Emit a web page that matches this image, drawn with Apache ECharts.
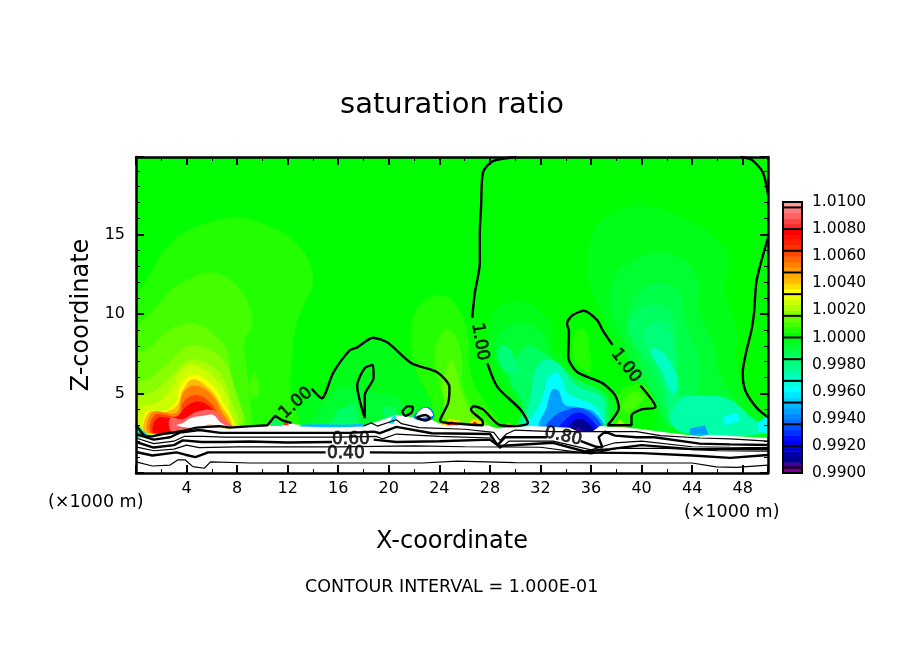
<!DOCTYPE html>
<html>
<head>
<meta charset="utf-8">
<title>saturation ratio</title>
<style>
  html, body { margin: 0; padding: 0; background: #fff; }
  #chart { width: 904px; height: 654px; }
</style>
<script src="https://cdn.jsdelivr.net/npm/echarts@6/dist/echarts.min.js"></script>
</head>
<body>
<div id="chart"></div>
<script>
// colour key, lowest band first, each band is 0.0004 wide
const levelStart = 0.99;
const levelStep = 0.0004;
const levelColors = [
  '#7a0090',
  '#46009a', '#000090', '#0000a8', '#0000d0',
  '#0000f0', '#0010ff', '#0030ff', '#0050ff',
  '#0070ff', '#0088ff', '#00a0ff', '#00b8ff',
  '#00d0ff', '#00e8ff', '#00ffff', '#00ffe0',
  '#00ffc0', '#00ffa8', '#00ff90', '#00ff78',
  '#00ff60', '#00ff48', '#00ff30', '#00ff18',
  '#00ff00', '#22ff00', '#44ff00', '#66ff00',
  '#88ff00', '#aaff00', '#ccff00', '#eeff00',
  '#ffff00', '#ffdd00', '#ffbb00', '#ffaa00',
  '#ff9900', '#ff8000', '#ff6600', '#ff4400',
  '#ff3000', '#ff2000', '#ff1000', '#ff0000',
  '#ff2a2a', '#ff4444', '#ff6060', '#ff7a7a',
  '#ff9999',
];

// filled regions: [km, km height]
const coolEast1 = [[35.7,12.6],[36.15,15.1],[37.7,16.35],[40.4,16.8],[43.3,16],[45.6,15],[46.8,13.6],[46.6,11.3],[47.5,9.2],[47.5,7.1],[47.9,5.5],[49,4],[50,3],[50,2],[41,2],[41.2,4.1],[39.9,5.5],[38.9,7],[37.7,8.5],[36.7,10.25],[35.9,11.8]];
const coolEast2 = [[37.5,10.45],[37.7,12.1],[39.3,13.4],[41.5,13.8],[43.3,13.4],[44.5,12.1],[44.5,10.25],[45.6,8.4],[46.2,6.2],[47.4,4.6],[48.2,3],[42.1,3],[41.2,4.2],[39.9,5.5],[38.7,8.05]];
const coolEast3 = [[38.9,9.6],[39.7,11.3],[41.2,11.95],[42.8,11.5],[43.3,10.25],[43.6,9.2],[44.6,7.1],[44.6,4.6],[46.2,3],[42.5,3],[41.5,4.2],[40.5,5.7],[39.7,7.4]];
const coolEast4 = [[38.9,9],[39.7,10.25],[41.5,10.55],[42.5,9.8],[42.8,7.7],[43,5.5],[43.8,4],[44.6,3],[42.5,3],[42,4],[41.4,5.7],[40.3,7.2]];
const coolEast5 = [[40.2,8.5],[40.6,9.3],[41.6,9.5],[42.3,8.8],[42.7,6.5],[42.8,5],[43.3,3.5],[42.3,3],[42,4.2],[41.6,6],[40.8,7.4]];
const coolEast6 = [[40.7,7.7],[41.5,7.7],[42.5,6.65],[42.9,5.65],[42.5,5],[41.5,6.5]];
const coolEast7 = [[42.4,3],[43,4.6],[44.6,4.9],[47,4.6],[49,3.3],[49.8,3],[50,2.5],[44.6,2.4]];
const coolEast8 = [[46.4,3.5],[47.5,3.8],[47.8,3.3],[46.6,3]];
const coolEast9 = [[43.8,2.8],[45,3],[45.3,2.4],[43.8,2.4]];
const coolEdge = [[49.2,3.2],[50,3.6],[50,2.5],[49.2,2.6]];

const plume35a = [[27.8,9],[28.4,10.25],[30.5,10.8],[32.6,9.6],[33.1,7.7],[33.7,7.3],[34.5,6.6],[36.8,5.5],[37.9,4.6],[38,3.8],[37.3,3],[31,3],[30.4,4],[29.1,5.5],[28.3,6.5]];
const plume35b = [[28.4,8],[29.6,9.3],[31.2,9.3],[32.4,8.4],[32.9,6.8],[33.9,6.2],[36.7,5.2],[37.7,4.3],[37.1,3],[31,3],[30.6,4],[29.6,5.5]];
const plume35c = [[29.6,6],[30.8,8],[32,7.7],[33.2,7],[34.9,5.9],[37,5],[37.4,4],[37,2.9],[30.4,2.9],[30.6,4.3]];
const ridge30 = [[28.6,7.7],[29.3,8.05],[29.9,7.3],[30.2,6.3],[29.4,6.3],[28.7,7]];
const plume35d = [[31.6,6.5],[32.4,7.1],[33.4,6.9],[34.7,5.6],[36.8,4.8],[37.1,3.9],[36.8,2.9],[30.6,2.9],[31,4],[31.3,5.2]];
const plume35e = [[32.6,6],[33.4,6.3],[34.2,5],[35.9,4.4],[36.7,3.8],[36.9,2.9],[31.2,2.9],[32,4.4],[32.4,5.4]];
const plume35f = [[32.9,5.2],[33.4,5.2],[33.9,4.3],[34.9,4.15],[36.2,3.85],[36.9,2.9],[32,2.9],[32.5,4.15]];
const plume35g = [[33.7,3.85],[35,4.1],[36.2,3.65],[36.7,2.9],[32.5,2.9],[33,3.5]];
const plume35h = [[33.9,3.3],[35,3.8],[36.1,3.3],[36.5,2.6],[33.4,2.6]];
const plume35i = [[34.3,3],[35,3.4],[35.8,3.15],[36.2,2.6],[34.2,2.6]];
const plume35j = [[34.7,2.6],[35,2.9],[35.4,2.6]];

const midCool1 = [[12.6,3.15],[13.9,5.1],[14.7,4.6],[15.6,6.2],[16.9,7.6],[18.75,8.4],[19.9,8.15],[21.8,6.8],[23.8,6.2],[24.6,5.3],[24.3,4.2],[23.8,3]];
const midCool2 = [[14,3],[15,4.4],[16.2,5.4],[17.5,5.2],[19.2,5],[20.4,4.9],[21.2,4.2],[21,3.5],[20,3.2],[17,3]];
const midCool3 = [[15.2,3],[16,4],[17.4,4.5],[17.6,3]];
const midCool4 = [[19.6,4.2],[20.5,4.1],[20.7,3.6],[19.6,3.1]];

const warmWest1 = [[0,10.8],[1.1,12.5],[2.7,14.45],[4.8,15.5],[7.7,16.05],[10,15.7],[12.7,14.45],[14,12.3],[13.2,10.4],[12.7,9.4],[12.4,7.7],[12.2,5.3],[12.5,2.8],[0,2]];
const warmWest2 = [[0,8.9],[1.35,10.2],[2.9,11.6],[4,12.1],[6.1,12.6],[8.2,11.6],[9.2,9.6],[8.55,8.2],[8.8,6.4],[9,4.6],[8.8,2.9],[0,2]];
const warmWest3 = [[0,7.3],[1.1,7.9],[2.7,9],[4.7,9.4],[6.6,8.4],[7.2,7.7],[7.6,6],[8.2,4.5],[8.4,2.9],[0,2]];
const warmWest4 = [[0,5.5],[1.2,6],[2.8,7.1],[4.2,8],[5.4,7.9],[7,7],[7.8,5.2],[8.2,3],[0,2]];
const warmWest5 = [[0,4.6],[1.4,5.1],[2.9,6.2],[4.2,7.1],[5.3,7],[6.7,6.2],[7.5,4.6],[7.9,3],[0,2]];
const warmWest6 = [[0.4,4.1],[1.6,4.4],[2.9,5.4],[3.4,6.3],[4.3,6.8],[5.2,6.6],[6.4,5.85],[7.2,4.8],[7.6,3.5],[7.9,2.9],[0.3,2]];
const warmWest7 = [[0.85,3.85],[2.2,3.9],[3.1,4.4],[3.5,5.5],[4.5,6.2],[6.1,5.5],[6.9,4.4],[7.6,3],[0.7,2.5]];
const warmWest8 = [[1,3.8],[2.4,3.85],[3.3,4.3],[3.7,5.2],[4.5,5.9],[5.8,5.3],[6.7,4.3],[7.4,3],[0.8,2.5]];
const warmWest9 = [[1.3,3.8],[3.2,3.8],[3.7,5],[4.6,5.5],[5.9,5],[6.7,4],[7.2,3],[1.1,2.5]];
const warmWest10 = [[1.5,3.65],[3.3,3.6],[3.8,4.5],[4.7,4.9],[5.8,4.5],[6.6,3.6],[7.1,3],[1.3,2.5]];
const warmWest11 = [[1.65,3.45],[3.1,3.5],[4,4.2],[4.8,4.5],[5.8,4.2],[6.6,3.3],[7,2.9],[1.5,2.5]];
const warmWest12 = [[2.7,3.45],[3.7,3.4],[4.8,3.85],[6.1,3.95],[7,3.35],[7.6,2.9],[4.8,2.8],[2.85,2.6]];
const warmWest13 = [[3.2,3],[3.7,3.15],[4.3,3.45],[5.3,3.6],[6.1,3.65],[6.65,3.2],[7.1,2.9],[4.8,2.8]];
const warmBlob9 = [[9.3,6.3],[9.7,5.7],[9.7,4.9],[9.2,4.7],[9,5.5]];

const warmMid1 = [[21.8,9.2],[22.1,10.2],[23.4,11.1],[24.8,11],[25.8,9.9],[26.3,8.4],[26.4,6.5],[27.2,4.9],[28.6,3.3],[26.4,2.8],[24,2.8],[23.3,4.6],[22.1,6.5],[21.8,7.6]];
const warmMid2 = [[23.65,7.7],[24.4,9],[25.2,8.7],[25.8,7.1],[25.8,5.5],[26.8,4],[28,2.8],[24.8,2.8],[24.4,4.6],[23.8,6.2]];
const warmMid3 = [[24.2,5.5],[25,7.1],[25.8,5],[26.6,3.6],[27.4,2.8],[24.6,2.8],[24.4,4.4]];

const warmLoop1 = [[38.1,4.9],[39.1,5.5],[40.3,5.5],[41,4.3],[39.9,4],[39.1,3.6],[39.2,3],[37.5,3],[38,4.1]];
const warmLoop2 = [[38.6,4.6],[39.4,5.1],[40.2,4.8],[39.6,4.2],[38.8,3.8],[38.4,4.2]];
const warmLoop3 = [[37.7,2.8],[38.3,3.4],[39,2.8]];
const warmInner = [[34.5,7.7],[34.7,8.8],[35.3,9.1],[35.7,8.8],[35.9,7.7],[35.9,6.3],[35.2,6.6],[34.7,6.9]];

const fillLayers = [
  [0.9996, coolEast1], [0.9992, coolEast2], [0.9988, coolEast3], [0.9984, coolEast4],
  [0.998, coolEast5], [0.9968, coolEast6], [0.9972, coolEast7], [0.996, coolEast8],
  [0.9944, coolEast9], [0.996, coolEdge],
  [0.9996, plume35a], [0.9992, plume35b], [0.9984, plume35c], [0.998, ridge30], [0.9972, plume35d],
  [0.996, plume35e], [0.9944, plume35f], [0.9932, plume35g], [0.9924, plume35h],
  [0.9908, plume35i], [0.9904, plume35j],
  [0.9996, midCool1], [0.9992, midCool2], [0.9984, midCool3], [0.9984, midCool4],
  [1.0004, warmWest1], [1.0008, warmWest2], [1.0012, warmWest3], [1.0016, warmWest4],
  [1.002, warmWest5], [1.0024, warmWest6], [1.0032, warmWest7], [1.004, warmWest8],
  [1.0052, warmWest9], [1.006, warmWest10], [1.0076, warmWest11], [1.0088, warmWest12],
  [1.01, warmWest13], [1.0008, warmBlob9],
  [1.0004, warmMid1], [1.0008, warmMid2], [1.0012, warmMid3],
  [1.0004, warmLoop1], [1.0008, warmLoop2], [1.0016, warmLoop3], [1.0004, warmInner],
];

// ground profile, painted white under the upper contours
const terrainTop = [[0,2.7],[1.1,2.3],[2.7,2.5],[4.8,2.9],[7.4,2.8],[10.4,3],[12.2,3.1],[13.2,3],[16.9,2.95],[18.2,3],[20.6,3.65],[23.4,3.35],[24,3.1],[27.8,3],[28.6,2.8],[31.2,2.95],[34.3,2.85],[35,2.6],[36.1,2.6],[36.7,2.95],[39.6,2.8],[41.5,2.6],[44.6,2.3],[45.4,2.4],[50,2.2]];

// small patches right on the ground line
const spotWest = [[5.1,2.85],[5.7,3.05],[6.4,3],[6.5,2.85]];
const spot12a = [[10.6,2.95],[11,3.45],[11.6,3.1],[11.6,2.95]];
const spot12b = [[11.6,3],[11.9,3.3],[12.1,3]];
const strip15 = [[13.2,3.05],[17,3.05],[18,3.1],[18,2.92],[13,2.92]];
const spot20 = [[20,3.1],[20.4,3.7],[20.6,3.5],[20.4,3.1]];
const spot22a = [[22,3.45],[22.4,3.95],[23.1,4.15],[23.6,3.65],[23.2,3.3]];
const spot22b = [[22.4,3.9],[23,4.1],[23.5,3.65],[23,3.5],[22.2,3.5]];
const spot25a = [[24.1,3],[24.8,3.4],[25.6,3.3],[25.9,3]];
const spot25b = [[24.5,3],[25,3.25],[25.5,3]];
const spot25c = [[24.8,3.03],[25.1,3.12],[25.3,3.03]];
const spot27a = [[26.1,3],[26.7,3.45],[27.4,3.2],[27.5,3]];
const spot27b = [[26.5,3],[26.8,3.25],[27.1,3]];
const spot30 = [[29.2,3],[29.5,3.15],[29.8,3]];
const cornerA = [[0,3.2],[0.5,2.7],[1.1,2.3],[0,2.2]];
const cornerB = [[0.2,2.6],[0.7,2.5],[1.1,2.3],[0.3,2.35]];
const groundSpots = [
  [1.0044, spotWest], [0.9984, spot12a], [1.0064, spot12b], [0.9948, strip15], [0.9956, spot20],
  [0.9936, spot22a], [1.01, spot22b], [1.0036, spot25a], [1.0072, spot25b], [1.0088, spot25c],
  [1.0036, spot27a], [1.0072, spot27b], [1.0028, spot30], [0.9972, cornerA], [0.994, cornerB],
];

// contour lines
const contourWest = [[0,3],[0.7,2.3],[1.3,2.3],[2.1,2.45],[3,2.55],[3.7,2.65],[4.8,2.85],[6.6,2.95],[7.4,2.85],[9.2,2.95],[10.4,3],[11,3.6],[11.6,3.3],[12.3,3.15]];
const contourHump = [[13.9,5.3],[14.7,4.7],[15.6,6.3],[16.9,7.7],[17.5,7.9],[18.75,8.5],[19.9,8.2],[21.8,6.9],[23.8,6.35],[24.8,5.4],[24.7,4.4],[24.05,3.3],[25.6,3.1],[27.45,3],[27.4,3.3],[26.5,4],[26.7,4.2],[27.45,4],[28.8,3],[30.1,2.95],[31,3.15],[30.4,4],[28.6,5.4],[27.8,6.9]];
const contourTall = [[26.6,9.75],[26.8,11.3],[27.2,13.2],[27.2,15.1],[27.3,16.7],[27.45,18.9],[28.2,19.6],[30.1,19.87]];
const contourCorner = [[47.8,19.87],[48.7,19.7],[49.6,18.9],[50,17.5]];
const contourEast = [[50,14.8],[49.1,12.1],[48.9,10.1],[48.7,9],[48.3,7.7],[48,6.3],[48.2,5.2],[49.1,4.1],[50,3.5]];
const contourLoopTop = [[37.7,8.05],[36.9,9],[36.5,9.6],[35.4,10.2],[34.5,9.9],[34.1,9.4],[34.25,8.9],[34.2,7.3],[34.9,6.35],[36.9,5.65],[37.9,4.9],[38.2,4.1],[37.3,3],[39.2,3],[39.2,3.6],[40,4],[41.1,4.15],[39.9,5.5]];
const contourInner = [[18.1,3.45],[17.5,5.5],[18.1,6.6],[18.75,6.8],[18.8,6],[18.1,4.9],[18.1,3.45]];
const contourSmallA = [[21.05,3.85],[21.5,4.2],[21.9,4.15],[21.8,3.8],[21.3,3.6],[21.05,3.85]];
const contourSmallB = [[22.2,3.5],[22.9,3.65],[23.25,3.45],[22.9,3.3],[22.2,3.5]];

const level09 = [[18,2.95],[18.6,3.15],[19.1,2.95],[20.6,3.35],[21,3.1],[22.4,2.85],[26,2.75],[28.3,2.55],[28.8,2.05],[29.3,2.45],[30,2.7],[33,2.6],[36.9,2.6],[39.6,2.6],[41.5,2.35],[44.6,2.2],[47,2.15],[50,2]];
const level08a = [[0,2.45],[1.4,2.1],[2.7,2.25],[3.5,2.55],[5,2.7],[6.7,2.52],[13,2.52],[16.9,2.52],[18.8,2.6],[19.3,2.5],[20.6,2.9],[23.4,2.5],[28,2.45],[28.6,1.75],[29.2,2.25],[32.5,2.25]];
const level08b = [[35.2,2],[36.4,1.65],[36.9,1.6],[36.6,2.26],[37.1,2.6],[37.9,2.35],[39.6,2.25],[41,2.25],[44.6,1.85],[47,1.8],[50,1.76]];
const level07 = [[0,2.2],[1.4,1.85],[3,2],[3.8,2.3],[5.3,2.3],[7,2.26],[16,2.26],[19,2.3],[19.5,2.15],[20.6,2.45],[24,2.3],[28.2,2.2],[28.8,1.55],[29.5,2],[33,2],[36,1.45],[37.9,1.9],[40,2],[44,1.65],[47,1.62],[50,1.6]];
const level06a = [[0,1.95],[1.4,1.6],[3,1.75],[3.7,2.05],[5.2,1.95],[7,1.95],[9,1.98],[12,1.92],[15.5,1.95]];
const level06b = [[18.8,2.1],[20.6,1.95],[24,2],[28,2.1],[28.7,1.7],[33,1.9],[35.5,1.35],[37.5,1.5],[40,1.75],[44,1.5],[47,1.5],[50,1.5]];
const level05 = [[0,1.64],[1.4,1.4],[3,1.5],[4,1.75],[5,1.6],[8,1.64],[16,1.64],[22,1.7],[26,1.65],[32,1.62],[36,1.2],[38,1.55],[42,1.55],[46,1.4],[50,1.38]];
const level04a = [[0,1.32],[1.3,1.1],[3.2,1.3],[3.9,1.15],[4.7,1],[5.4,1.2],[5.7,1.3],[7.4,1.3],[15,1.3]];
const level04b = [[18.5,1.3],[22,1.28],[28,1.3],[34,1.3],[40,1.25],[44,1.1],[47,0.95],[50,1.13]];
const level03 = [[0,0.7],[1.3,0.44],[2.7,0.5],[3.3,0.82],[3.9,0.82],[4.5,0.4],[5.4,0.3],[5.9,0.7],[9,0.63],[16.9,0.63],[22.7,0.63],[25.4,0.75],[30,0.65],[40.1,0.63],[44,0.63],[45.9,0.38],[47.5,0.35],[50,0.5]];

const curvedLines = [contourHump, contourTall, contourCorner, contourEast, contourLoopTop, contourInner, contourSmallA, contourSmallB];
const thickLines = [contourWest, level08a, level08b, level06a, level06b, level04a, level04b];
const thinLines = [level09, level07, level05, level03];

// inline contour labels: [km, km height, text, rotation]
const contourLabels = [
  [12.65, 4.4, '1.00', 42],
  [27.2, 8.25, '1.00', -80],
  [38.75, 6.75, '1.00', -52],
  [17, 2.1, '0.60', 0],
  [16.6, 1.25, '0.40', 0],
  [33.8, 2.3, '0.80', -12],
];

const fontName = 'DejaVu Sans';

function colorOf(value) {
  const index = Math.round((value - levelStart) / levelStep);
  return index >= levelColors.length ? '#ffffff' : levelColors[index];
}

function regionRenderer(layers) {
  return (params, api) => {
    const [value, outline] = layers[params.dataIndex];
    return {
      type: 'polygon',
      shape: { points: outline.map((p) => api.coord(p)), smooth: outline.length > 4 ? 0.4 : 0 },
      style: { fill: colorOf(value) },
      silent: true,
    };
  };
}

function renderKeyCell(params, api) {
  const index = params.dataIndex;
  const low = api.coord([0, api.value(0)]);
  const high = api.coord([1, api.value(0) + levelStep]);
  const children = [{
    type: 'rect',
    shape: { x: low[0], y: high[1], width: high[0] - low[0], height: low[1] - high[1] + 0.5 },
    style: { fill: levelColors[index] },
  }];
  if (index % 4 === 1) {
    children.push({
      type: 'line',
      shape: { x1: low[0], y1: low[1], x2: high[0], y2: low[1] },
      style: { stroke: '#000', lineWidth: 2 },
      z2: 5,
    });
  }
  if (index === levelColors.length - 1) {
    const box = params.coordSys;
    children.push({
      type: 'rect',
      shape: { x: box.x, y: box.y, width: box.width, height: box.height },
      style: { fill: 'none', stroke: '#000', lineWidth: 2 },
      z2: 6,
    });
  }
  return { type: 'group', children };
}

function frameAxis(position, extra) {
  return Object.assign({
    type: 'value',
    position,
    z: 8,
    splitLine: { show: false },
    axisLine: { show: true, onZero: false, lineStyle: { color: '#000', width: 2.5 } },
    axisTick: { show: true, inside: true, length: 8, lineStyle: { color: '#000', width: 2 } },
    minorTick: { show: true, length: 4, lineStyle: { color: '#000', width: 1 } },
    axisLabel: { show: false },
  }, extra);
}

const tickLabel = {
  show: true,
  color: '#000',
  fontFamily: fontName,
  fontSize: 16,
  showMinLabel: false,
  showMaxLabel: false,
};

const chart = echarts.init(document.getElementById('chart'), null, { renderer: 'canvas' });

const lineSeries = (list, width, smooth) => list.map((data) => ({
  type: 'line',
  data,
  z: 4,
  silent: true,
  symbol: 'none',
  smooth,
  lineStyle: { color: '#000', width },
}));

chart.setOption({
  animation: false,
  backgroundColor: '#fff',
  title: {
    text: 'saturation ratio',
    left: 447,
    top: 86,
    textAlign: 'center',
    textStyle: { color: '#000', fontFamily: fontName, fontWeight: 'normal', fontSize: 29 },
  },
  grid: [
    { left: 136, top: 157, width: 632, height: 316, show: true, backgroundColor: levelColors[25], borderWidth: 0 },
    { left: 783, top: 202, width: 19, height: 271 },
  ],
  xAxis: [
    frameAxis('bottom', {
      min: 0, max: 50, interval: 4,
      minorTick: { show: true, splitNumber: 2, length: 4, lineStyle: { color: '#000', width: 1 } },
      axisLabel: Object.assign({}, tickLabel, { margin: 8 }),
      name: 'X-coordinate',
      nameLocation: 'middle',
      nameGap: 57,
      nameTextStyle: { color: '#000', fontFamily: fontName, fontSize: 24 },
    }),
    frameAxis('top', {
      min: 0, max: 50, interval: 4,
      minorTick: { show: true, splitNumber: 2, length: 4, lineStyle: { color: '#000', width: 1 } },
    }),
    { gridIndex: 1, type: 'value', min: 0, max: 1, show: false },
  ],
  yAxis: [
    frameAxis('left', {
      min: 0, max: 19.87, interval: 5,
      minorTick: { show: true, splitNumber: 5, length: 4, lineStyle: { color: '#000', width: 1 } },
      axisLabel: Object.assign({}, tickLabel, { margin: 11 }),
      name: 'Z-coordinate',
      nameLocation: 'middle',
      nameGap: 36,
      nameTextStyle: { color: '#000', fontFamily: fontName, fontSize: 24 },
    }),
    frameAxis('right', {
      min: 0, max: 19.87, interval: 5,
      minorTick: { show: true, splitNumber: 5, length: 4, lineStyle: { color: '#000', width: 1 } },
    }),
    {
      gridIndex: 1,
      type: 'value',
      position: 'right',
      min: 0.99,
      max: 1.01,
      interval: 0.002,
      splitLine: { show: false },
      axisLine: { show: false },
      axisTick: { show: false },
      axisLabel: {
        color: '#000',
        fontFamily: fontName,
        fontSize: 15.5,
        margin: 10,
        formatter: (value) => value.toFixed(4),
      },
    },
  ],
  graphic: [
    { type: 'text', left: 48, top: 493, style: { text: '(×1000 m)', fill: '#000', font: `17.5px "${fontName}"` } },
    { type: 'text', left: 684, top: 503, style: { text: '(×1000 m)', fill: '#000', font: `17.5px "${fontName}"` } },
    { type: 'text', left: 305, top: 578, style: { text: 'CONTOUR INTERVAL = 1.000E-01', fill: '#000', font: `17.5px "${fontName}"` } },
  ],
  series: [
    {
      type: 'custom',
      z: 1,
      silent: true,
      clip: true,
      coordinateSystem: 'cartesian2d',
      data: fillLayers.map((layer) => [layer[0]]),
      encode: { x: [], y: [] },
      renderItem: regionRenderer(fillLayers),
    },
    {
      type: 'line',
      data: terrainTop,
      z: 2,
      silent: true,
      symbol: 'none',
      lineStyle: { width: 0 },
      areaStyle: { color: '#fff', opacity: 1, origin: 'start' },
    },
    {
      type: 'custom',
      z: 3,
      silent: true,
      clip: true,
      coordinateSystem: 'cartesian2d',
      data: groundSpots.map((layer) => [layer[0]]),
      encode: { x: [], y: [] },
      renderItem: regionRenderer(groundSpots),
    },
    ...lineSeries(curvedLines, 2.4, 0.25),
    ...lineSeries(thickLines, 2.4, false),
    ...lineSeries(thinLines, 1.2, false),
    {
      type: 'scatter',
      z: 5,
      silent: true,
      symbolSize: 0,
      data: contourLabels.map((item) => ({
        value: [item[0], item[1]],
        label: { rotate: item[3] },
      })),
      label: {
        show: true,
        position: 'inside',
        color: '#000',
        fontFamily: fontName,
        fontSize: 17,
        textBorderColor: '#000',
        textBorderWidth: 0.8,
        formatter: (params) => contourLabels[params.dataIndex][2],
      },
    },
    {
      type: 'custom',
      xAxisIndex: 2,
      yAxisIndex: 2,
      silent: true,
      coordinateSystem: 'cartesian2d',
      data: levelColors.map((color, i) => [levelStart + i * levelStep]),
      encode: { y: 0 },
      renderItem: renderKeyCell,
    },
  ],
});
</script>
</body>
</html>
